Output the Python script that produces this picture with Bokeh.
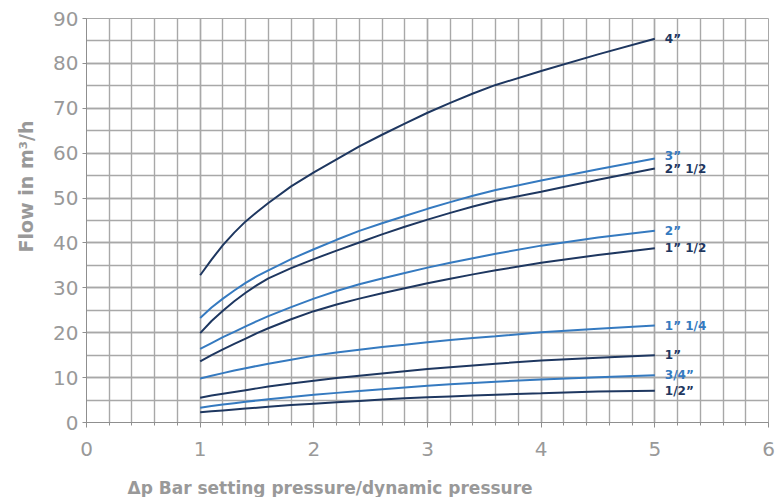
from bokeh.plotting import figure
from bokeh.models import ColumnDataSource, SingleIntervalTicker, Title, Range1d
from bokeh.layouts import column
from bokeh.core.properties import value
from bokeh.embed import file_html
from bokeh.resources import INLINE

# ---------------- data ----------------
x_pressure = [1.0, 1.1, 1.2, 1.3, 1.4, 1.5, 1.6, 1.8, 2.0, 2.2, 2.4, 2.6, 2.8, 3.0,
              3.2, 3.4, 3.6, 4.0, 4.5, 5.0]

flow_4 = [32.8, 36.3, 39.5, 42.3, 44.8, 46.9, 48.9, 52.6, 55.7, 58.6, 61.5, 64.1, 66.6, 69.0,
          71.2, 73.3, 75.2, 78.3, 82.0, 85.5]
flow_3 = [23.3, 25.6, 27.6, 29.4, 31.1, 32.6, 33.9, 36.4, 38.6, 40.7, 42.7, 44.4, 46.0, 47.6,
          49.1, 50.5, 51.8, 53.9, 56.4, 58.8]
flow_2_12 = [19.9, 22.6, 24.9, 27.0, 28.9, 30.6, 32.1, 34.4, 36.4, 38.3, 40.1, 41.9, 43.6, 45.2,
             46.7, 48.1, 49.4, 51.4, 54.1, 56.6]
flow_2 = [16.4, 17.7, 19.0, 20.2, 21.4, 22.6, 23.7, 25.7, 27.6, 29.3, 30.8, 32.1, 33.3, 34.5,
          35.6, 36.6, 37.6, 39.4, 41.2, 42.7]
flow_1_12 = [13.6, 15.0, 16.3, 17.5, 18.7, 19.9, 21.0, 23.0, 24.8, 26.3, 27.6, 28.8, 29.9, 31.0,
             32.0, 33.0, 33.9, 35.6, 37.3, 38.8]
flow_1_14 = [9.8, 10.4, 11.0, 11.6, 12.1, 12.6, 13.1, 14.0, 14.9, 15.6, 16.2, 16.8, 17.3, 17.9,
             18.4, 18.8, 19.2, 20.1, 20.9, 21.6]
flow_1 = [5.5, 6.0, 6.4, 6.8, 7.2, 7.6, 8.0, 8.7, 9.3, 9.9, 10.4, 10.9, 11.4, 11.9,
          12.3, 12.7, 13.1, 13.8, 14.4, 15.0]
flow_3_4 = [3.3, 3.7, 4.0, 4.3, 4.6, 4.9, 5.2, 5.7, 6.2, 6.6, 7.0, 7.4, 7.8, 8.2,
            8.5, 8.8, 9.1, 9.6, 10.1, 10.5]
flow_1_2 = [2.3, 2.5, 2.7, 2.9, 3.1, 3.3, 3.5, 3.9, 4.2, 4.5, 4.8, 5.1, 5.4, 5.6,
            5.8, 6.0, 6.2, 6.5, 6.9, 7.1]

size_labels = ["4\u201d", "3\u201d", "2\u201d 1/2", "2\u201d", "1\u201d 1/2",
               "1\u201d 1/4", "1\u201d", "3/4\u201d", "1/2\u201d"]
series = [flow_4, flow_3, flow_2_12, flow_2, flow_1_12, flow_1_14, flow_1, flow_3_4, flow_1_2]

x_title = "\u0394p Bar setting pressure/dynamic pressure"
y_title = "Flow in m\u00b3/h"

# ---------------- styles ----------------
NAVY = "#1e3760"
BLUE = "#357ac0"
colors = [NAVY, BLUE, NAVY, BLUE, NAVY, BLUE, NAVY, BLUE, NAVY]
label_nudge_px = [0, -3, 1, 0, 0, 0, 0, 0, 0]
GRID = "#a8a8a8"
TXT = "#999999"
FONT = "DejaVu Sans"

MAIN_H = 470
TITLE_H = 27
FRAME_L, FRAME_R = 86, 768

p = figure(width=776, height=MAIN_H, output_backend="svg", toolbar_location=None,
           x_range=Range1d(0, 6), y_range=Range1d(0, 90),
           min_border_left=FRAME_L, min_border_right=776 - FRAME_R, min_border_top=18,
           min_border_bottom=48)
p.background_fill_color = "white"
p.border_fill_color = "white"
p.outline_line_color = GRID

xticker = SingleIntervalTicker(interval=1, num_minor_ticks=5)
yticker = SingleIntervalTicker(interval=10, num_minor_ticks=2)
p.xaxis.ticker = xticker
p.yaxis.ticker = yticker
p.xgrid.ticker = xticker
p.ygrid.ticker = yticker

for g in (p.xgrid, p.ygrid):
    g.grid_line_color = GRID
    g.grid_line_alpha = 1.0
    g.grid_line_width = 1.4
    g.minor_grid_line_color = GRID
    g.minor_grid_line_alpha = 1.0
    g.minor_grid_line_width = 1.4

for ax in (p.xaxis, p.yaxis):
    ax.axis_line_color = "#8f8f8f"
    ax.major_tick_line_color = "#8f8f8f"
    ax.minor_tick_line_color = "#8f8f8f"
    ax.major_tick_in = 0
    ax.minor_tick_in = 0
    ax.major_label_text_color = TXT
    ax.major_label_text_font = FONT
    ax.major_label_text_font_size = "20px"

p.xaxis.major_tick_out = 5
p.xaxis.minor_tick_out = 3
p.xaxis.major_label_standoff = 14
p.yaxis.major_tick_out = 4
p.yaxis.minor_tick_out = 0
p.yaxis.major_label_standoff = 4

# y-axis title, placed toward the top of the frame like the original
p.add_layout(Title(text=y_title, align="right", offset=102, vertical_align="middle",
                   standoff=26, text_color=TXT, text_font=FONT, text_font_style="bold",
                   text_font_size="19px"), "left")

for ys, c in zip(series, colors):
    p.line(x_pressure, ys, line_color=c, line_width=2)

src = ColumnDataSource(dict(
    x=[x_pressure[-1]] * len(series),
    y=[s[-1] for s in series],
    text=size_labels,
    color=colors,
    dy=label_nudge_px,
))
p.text(x="x", y="y", text="text", source=src, text_color="color",
       text_font=value(FONT), text_font_style="bold", text_font_size="12px",
       text_baseline="middle", text_align="left", x_offset=10, y_offset="dy")

# x-axis title strip below the chart; its frame is aligned with the chart frame,
# so its x range is expressed in page pixels of that frame
t = figure(width=776, height=TITLE_H, output_backend="svg", toolbar_location=None,
           x_range=Range1d(FRAME_L, FRAME_R), y_range=Range1d(TITLE_H, 0),
           x_axis_type=None, y_axis_type=None,
           min_border_left=0, min_border_right=0, min_border_top=0, min_border_bottom=0)
t.grid.visible = False
t.outline_line_color = None
t.background_fill_color = "white"
t.border_fill_color = "white"
t.text(x=[127], y=[17], text=[x_title], text_color=TXT, text_font=value(FONT),
       text_font_style="bold", text_font_size="17px", text_align="left",
       text_baseline="middle")

layout = column(p, t, spacing=0)
open("out.html", "w").write(file_html(layout, INLINE))
